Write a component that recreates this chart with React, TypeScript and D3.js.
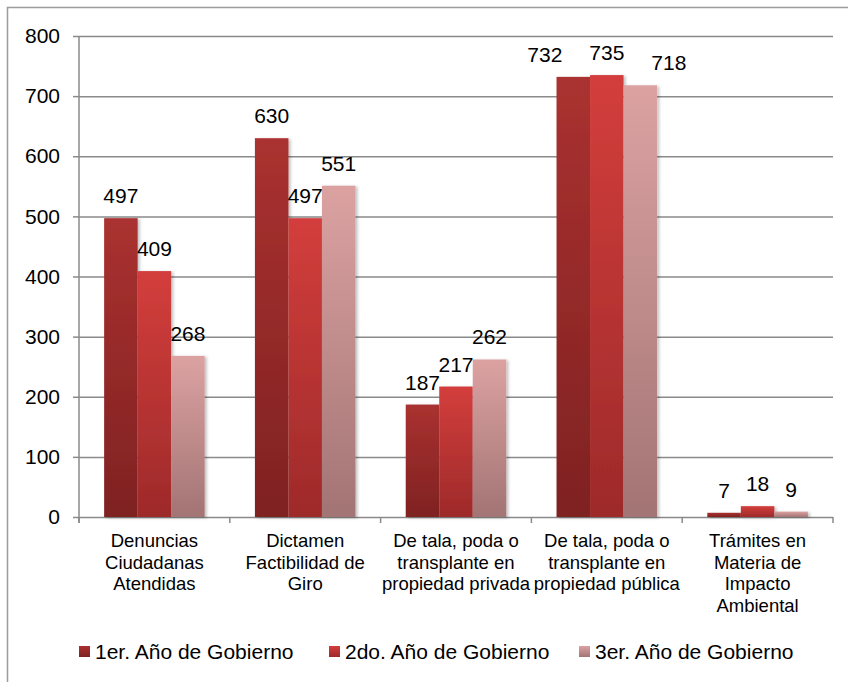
import { useRef, useEffect } from 'react'
import * as d3 from 'd3'

const WIDTH = 848
const HEIGHT = 682
const PLOT = { left: 79, right: 833, top: 36, bottom: 517 }
const FONT = '"Liberation Sans", Arial, sans-serif'

const categories = [
  ['Denuncias', 'Ciudadanas', 'Atendidas'],
  ['Dictamen', 'Factibilidad de', 'Giro'],
  ['De tala, poda o', 'transplante en', 'propiedad privada'],
  ['De tala, poda o', 'transplante en', 'propiedad pública'],
  ['Trámites en', 'Materia de', 'Impacto', 'Ambiental'],
]
const series = ['1er. Año de Gobierno', '2do. Año de Gobierno', '3er. Año de Gobierno']
const year1 = [497, 630, 187, 732, 7]
const year2 = [409, 497, 217, 735, 18]
const year3 = [268, 551, 262, 718, 9]
const yTicks = [0, 100, 200, 300, 400, 500, 600, 700, 800]

// top / bottom colours of each series gradient
const gradients = [
  ['#aa3130', '#7f2222'],
  ['#d33e3c', '#9e2a2a'],
  ['#dca2a2', '#a37474'],
]

export default function App() {
  const svgRef = useRef<SVGSVGElement>(null)

  useEffect(() => {
    if (!svgRef.current) return
    const el = d3.select(svgRef.current)
    el.selectAll('*').remove()

    const values = [year1, year2, year3]
    const catKeys = categories.map((_, i) => String(i))

    const x0 = d3.scaleBand().domain(catKeys).range([PLOT.left, PLOT.right]).padding(0)
    const bw = x0.bandwidth() / 4.5
    const x1 = d3.scaleBand()
      .domain(series)
      .range([bw * 0.75, x0.bandwidth() - bw * 0.75])
      .padding(0)
    const y = d3.scaleLinear().domain([0, 800]).range([PLOT.bottom, PLOT.top])

    const defs = el.append('defs')
    gradients.forEach(([top, bottom], i) => {
      const g = defs.append('linearGradient')
        .attr('id', `grad${i}`)
        .attr('x1', 0).attr('y1', 0).attr('x2', 0).attr('y2', 1)
      g.append('stop').attr('offset', '0%').attr('stop-color', top)
      g.append('stop').attr('offset', '100%').attr('stop-color', bottom)
    })
    defs.append('filter')
      .attr('id', 'shadow')
      .attr('x', '-20%').attr('y', '-20%').attr('width', '150%').attr('height', '150%')
      .append('feDropShadow')
      .attr('dx', 2).attr('dy', 1).attr('stdDeviation', 1.5)
      .attr('flood-color', '#000').attr('flood-opacity', 0.25)

    el.append('rect').attr('width', WIDTH).attr('height', HEIGHT).attr('fill', '#fff')

    // outer chart border (right / bottom sit outside the picture)
    el.append('rect')
      .attr('x', 7.5).attr('y', 7.5)
      .attr('width', 900).attr('height', 700)
      .attr('fill', 'none').attr('stroke', '#9c9c9c').attr('stroke-width', 1.5)

    // Gridlines + y axis
    const yAxis = el.append('g')
      .attr('transform', `translate(${PLOT.left},0)`)
      .call(d3.axisLeft(y).tickValues(yTicks).tickSize(6).tickPadding(13).tickFormat(d3.format('d')))
    yAxis.select('.domain').remove()
    yAxis.selectAll('.tick line').attr('stroke', '#8a8a8a').attr('stroke-width', 1.5)
    yAxis.selectAll('.tick')
      .append('line')
      .attr('x1', 0).attr('x2', PLOT.right - PLOT.left)
      .attr('stroke', '#8a8a8a').attr('stroke-width', 1.5)
    yAxis.selectAll('text')
      .attr('fill', '#000').attr('font-size', 21).attr('font-family', FONT)

    el.append('line')
      .attr('x1', PLOT.left).attr('x2', PLOT.left)
      .attr('y1', PLOT.top).attr('y2', PLOT.bottom + 6)
      .attr('stroke', '#8a8a8a').attr('stroke-width', 1.5)

    // category boundary ticks
    el.append('g')
      .selectAll('line')
      .data(catKeys.concat(['end']))
      .join('line')
      .attr('x1', (d) => (d === 'end' ? PLOT.right : x0(d)!))
      .attr('x2', (d) => (d === 'end' ? PLOT.right : x0(d)!))
      .attr('y1', PLOT.bottom)
      .attr('y2', PLOT.bottom + 6)
      .attr('stroke', '#8a8a8a').attr('stroke-width', 1.5)

    // Bars
    const groups = el.append('g')
      .selectAll('g')
      .data(catKeys)
      .join('g')
      .attr('transform', (d) => `translate(${x0(d)},0)`)

    groups.selectAll('rect')
      .data((_, ci) => series.map((s, si) => ({ s, si, v: values[si][ci] })))
      .join('rect')
      .attr('x', (d) => x1(d.s)!)
      .attr('y', (d) => y(d.v))
      .attr('width', x1.bandwidth())
      .attr('height', (d) => y(0) - y(d.v))
      .attr('fill', (d) => `url(#grad${d.si})`)
      .attr('filter', 'url(#shadow)')

    // Value labels, spread apart when they collide (as Excel does)
    const fs = 21
    groups.each(function (_, ci) {
      const labels = series.map((s, si) => {
        const v = values[si][ci]
        return {
          v,
          cx: x1(s)! + x1.bandwidth() / 2,
          y: y(v) - 15,
          w: String(v).length * 0.556 * fs,
        }
      })
      let collide = false
      for (let i = 0; i < labels.length - 1; i++) {
        const a = labels[i]
        const b = labels[i + 1]
        if (Math.abs(a.y - b.y) < fs * 0.8 && b.cx - a.cx < (a.w + b.w) / 2) collide = true
      }
      if (collide) {
        const mid = x0.bandwidth() / 2
        labels.forEach((l, i) => (l.cx = mid + (i - 1) * 62))
      }
      d3.select(this)
        .selectAll('text')
        .data(labels)
        .join('text')
        .attr('x', (d) => d.cx)
        .attr('y', (d) => d.y)
        .attr('text-anchor', 'middle')
        .attr('font-size', fs)
        .attr('font-family', FONT)
        .attr('fill', '#000')
        .text((d) => d.v)
    })

    // Category labels
    el.append('g')
      .selectAll('text')
      .data(categories)
      .join('text')
      .attr('x', (_, i) => x0(String(i))! + x0.bandwidth() / 2)
      .attr('y', 547)
      .attr('text-anchor', 'middle')
      .attr('font-size', 18.5)
      .attr('font-family', FONT)
      .attr('fill', '#000')
      .selectAll('tspan')
      .data((d) => d)
      .join('tspan')
      .attr('x', function () {
        return (this.parentNode as SVGTextElement).getAttribute('x')
      })
      .attr('dy', (_, i) => (i === 0 ? 0 : 21.5))
      .text((d) => d)

    // Legend
    const legend = el.append('g')
      .selectAll('g')
      .data(series)
      .join('g')
      .attr('transform', (_, i) => `translate(${79 + i * 250},646)`)
    legend.append('rect')
      .attr('width', 11).attr('height', 11)
      .attr('fill', (_, i) => `url(#grad${i})`)
    legend.append('text')
      .attr('x', 16).attr('y', 5.5).attr('dy', '0.35em')
      .attr('font-size', 21)
      .attr('font-family', FONT)
      .attr('fill', '#000')
      .text((d) => d)
  }, [])

  return (
    <svg
      ref={svgRef}
      width={WIDTH}
      height={HEIGHT}
      style={{ position: 'absolute', left: 0, top: 0 }}
    />
  )
}
